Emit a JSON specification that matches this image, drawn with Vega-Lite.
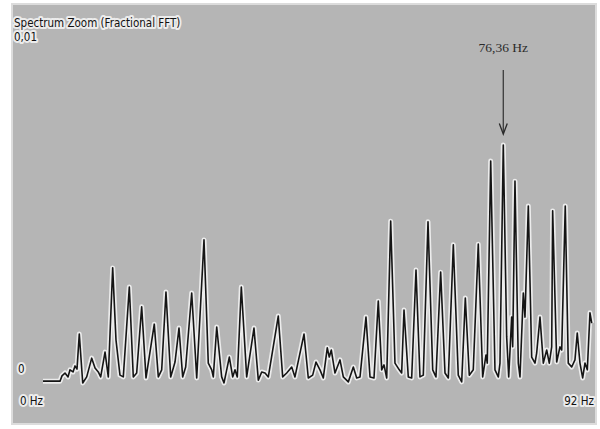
{
  "$schema": "https://vega.github.io/schema/vega-lite/v6.json",
  "width": 584,
  "height": 420,
  "autosize": {"type": "none"},
  "padding": {"left": 12, "top": 4, "right": 4, "bottom": 5},
  "background": "#ffffff",
  "config": {"view": {"fill": "#b5b5b5", "stroke": "#dcdcdc", "strokeWidth": 2}},
  "datasets": {
    "spec": [
      {"f":0,"a":0.00008},{"f":2.82,"a":0.00008},{"f":3.15,"a":0.00023},{"f":3.65,"a":0.00031},{"f":4.15,"a":0.0002},{"f":4.48,"a":0.0004},{"f":4.98,"a":0.00034},{"f":5.31,"a":0.00051},{"f":5.64,"a":0.00042},{"f":6.02,"a":0.00141},{"f":6.59,"a":0.00003},{"f":7.25,"a":0.0002},{"f":8.08,"a":0.00073},{"f":8.63,"a":0.00045},{"f":9.17,"a":0.00034},{"f":9.57,"a":0.0002},{"f":10.29,"a":0.0009},{"f":10.83,"a":0.0002},{"f":11.56,"a":0.00328},{"f":12.11,"a":0.00124},{"f":12.77,"a":0.00025},{"f":13.32,"a":0.0002},{"f":14.32,"a":0.00274},{"f":14.98,"a":0.0002},{"f":15.54,"a":0.00031},{"f":16.37,"a":0.00218},{"f":17.09,"a":0.00017},{"f":18.46,"a":0.00169},{"f":19.13,"a":0.0002},{"f":19.69,"a":0.0004},{"f":20.4,"a":0.0026},{"f":21.18,"a":0.0002},{"f":21.62,"a":0.00045},{"f":21.9,"a":0.00062},{"f":22.56,"a":0.00158},{"f":23.17,"a":0.0002},{"f":23.67,"a":0.00048},{"f":24.67,"a":0.00257},{"f":25.5,"a":0.00017},{"f":26.71,"a":0.00407},{"f":27.42,"a":0.00059},{"f":27.99,"a":0.0004},{"f":28.25,"a":0.0002},{"f":28.82,"a":0.00161},{"f":29.64,"a":0.0002},{"f":30.03,"a":0.00003},{"f":30.91,"a":0.00076},{"f":31.47,"a":0.0002},{"f":31.85,"a":0.0004},{"f":32.23,"a":0.0002},{"f":32.9,"a":0.00274},{"f":33.79,"a":0.0002},{"f":35.0,"a":0.00158},{"f":35.72,"a":0.00011},{"f":36.28,"a":0.00034},{"f":36.83,"a":0.00031},{"f":37.38,"a":0.0002},{"f":39.03,"a":0.00192},{"f":39.76,"a":0.0002},{"f":40.43,"a":0.00031},{"f":41.26,"a":0.00048},{"f":41.8,"a":0.0002},{"f":43.3,"a":0.00141},{"f":44.01,"a":0.00017},{"f":44.74,"a":0.00025},{"f":45.29,"a":0.00062},{"f":45.95,"a":0.0004},{"f":46.5,"a":0.00017},{"f":47.16,"a":0.00102},{"f":47.49,"a":0.00076},{"f":47.83,"a":0.00096},{"f":48.44,"a":0.00031},{"f":49.27,"a":0.00068},{"f":49.82,"a":0.0002},{"f":50.65,"a":0.00006},{"f":51.48,"a":0.00048},{"f":52.04,"a":0.00017},{"f":52.59,"a":0.0002},{"f":53.58,"a":0.00189},{"f":54.25,"a":0.0002},{"f":54.91,"a":0.00017},{"f":55.62,"a":0.00234},{"f":56.19,"a":0.0004},{"f":56.57,"a":0.00054},{"f":57.02,"a":0.00017},{"f":57.68,"a":0.0046},{"f":58.39,"a":0.00059},{"f":59.11,"a":0.0004},{"f":59.5,"a":0.00031},{"f":59.89,"a":0.00209},{"f":60.6,"a":0.0002},{"f":61.16,"a":0.00017},{"f":61.88,"a":0.00322},{"f":62.54,"a":0.0002},{"f":63.09,"a":0.00025},{"f":63.87,"a":0.00458},{"f":64.65,"a":0.0004},{"f":65.19,"a":0.0002},{"f":65.97,"a":0.00316},{"f":66.69,"a":0.00031},{"f":67.24,"a":0.00017},{"f":68.07,"a":0.00393},{"f":68.89,"a":0.00025},{"f":69.46,"a":0.00006},{"f":70.06,"a":0.00243},{"f":70.72,"a":0.00025},{"f":71.38,"a":0.0004},{"f":72.21,"a":0.00395},{"f":72.94,"a":0.0002},{"f":73.49,"a":0.00082},{"f":73.7,"a":0.00059},{"f":74.27,"a":0.0063},{"f":74.98,"a":0.0004},{"f":75.53,"a":0.0002},{"f":75.81,"a":0.00059},{"f":76.36,"a":0.00675},{"f":76.92,"a":0.00133},{"f":77.26,"a":0.0002},{"f":77.75,"a":0.00189},{"f":77.92,"a":0.00105},{"f":78.3,"a":0.00573},{"f":78.85,"a":0.00059},{"f":79.13,"a":0.0002},{"f":79.68,"a":0.00257},{"f":79.96,"a":0.00189},{"f":80.51,"a":0.00503},{"f":81.07,"a":0.00076},{"f":81.62,"a":0.00059},{"f":81.9,"a":0.00088},{"f":82.45,"a":0.00189},{"f":83.0,"a":0.00059},{"f":83.56,"a":0.00096},{"f":83.99,"a":0.00059},{"f":84.39,"a":0.00105},{"f":84.55,"a":0.00489},{"f":85.22,"a":0.00062},{"f":85.76,"a":0.00105},{"f":86.05,"a":0.00096},{"f":86.64,"a":0.00503},{"f":87.14,"a":0.00059},{"f":87.71,"a":0.00048},{"f":88.25,"a":0.00068},{"f":88.63,"a":0.00144},{"f":89.08,"a":0.00059},{"f":89.53,"a":0.00017},{"f":89.91,"a":0.00059},{"f":90.3,"a":0.0004},{"f":90.74,"a":0.00201},{"f":91.03,"a":0.00172}
    ]
  },
  "encoding": {
    "x": {"field": "f", "type": "quantitative", "scale": {"domain": [-5.143, 91.74], "zero": false, "nice": false}, "axis": null},
    "y": {"field": "a", "type": "quantitative", "scale": {"domain": [-0.00113, 0.010734], "zero": false, "nice": false}, "axis": null}
  },
  "layer": [
    {"data": {"name": "spec"}, "mark": {"type": "line", "stroke": "#ececec", "strokeWidth": 5, "strokeJoin": "round"}},
    {"data": {"name": "spec"}, "mark": {"type": "line", "stroke": "#141414", "strokeWidth": 1.6, "strokeJoin": "round"}},
    {
      "data": {"values": [
        {"f": -4.81, "a": 0.01017, "label": "Spectrum Zoom (Fractional FFT)"},
        {"f": -4.81, "a": 0.00977, "label": "0,01"},
        {"f": -4.15, "a": 0.000395, "label": "0"},
        {"f": -3.82, "a": -0.000508, "label": "0 Hz"}
      ]},
      "layer": [
        {"mark": {"type": "text", "align": "left", "baseline": "middle", "font": "DejaVu Sans Condensed, Liberation Sans Narrow, Liberation Sans, sans-serif", "fontSize": 11.5, "stroke": "#ececec", "strokeWidth": 4, "strokeJoin": "round", "fill": "#ececec"}, "encoding": {"text": {"field": "label"}}},
        {"mark": {"type": "text", "align": "left", "baseline": "middle", "font": "DejaVu Sans Condensed, Liberation Sans Narrow, Liberation Sans, sans-serif", "fontSize": 11.5, "fill": "#111111"}, "encoding": {"text": {"field": "label"}}}
      ]
    },
    {
      "data": {"values": [{"f": 91.4, "a": -0.000508, "label": "92 Hz"}]},
      "layer": [
        {"mark": {"type": "text", "align": "right", "baseline": "middle", "font": "DejaVu Sans Condensed, Liberation Sans Narrow, Liberation Sans, sans-serif", "fontSize": 11.5, "stroke": "#ececec", "strokeWidth": 4, "strokeJoin": "round", "fill": "#ececec"}, "encoding": {"text": {"field": "label"}}},
        {"mark": {"type": "text", "align": "right", "baseline": "middle", "font": "DejaVu Sans Condensed, Liberation Sans Narrow, Liberation Sans, sans-serif", "fontSize": 11.5, "fill": "#111111"}, "encoding": {"text": {"field": "label"}}}
      ]
    },
    {
      "data": {"values": [{"f": 76.36, "a": 0.00949, "label": "76,36 Hz"}]},
      "mark": {"type": "text", "align": "center", "baseline": "middle", "font": "Liberation Serif", "fontSize": 13.5, "fill": "#2a2a2a"},
      "encoding": {"text": {"field": "label"}}
    },
    {
      "data": {"values": [{"f": 76.36, "a": 0.00887, "a2": 0.00708}]},
      "mark": {"type": "rule", "color": "#3a3a3a", "strokeWidth": 1.3},
      "encoding": {"y2": {"field": "a2"}}
    },
    {
      "data": {"values": [
        {"f": 75.7, "a": 0.00736, "o": 1},
        {"f": 76.36, "a": 0.00706, "o": 2},
        {"f": 77.02, "a": 0.00736, "o": 3}
      ]},
      "mark": {"type": "line", "color": "#2a2a2a", "strokeWidth": 1.3},
      "encoding": {"order": {"field": "o"}}
    }
  ]
}
